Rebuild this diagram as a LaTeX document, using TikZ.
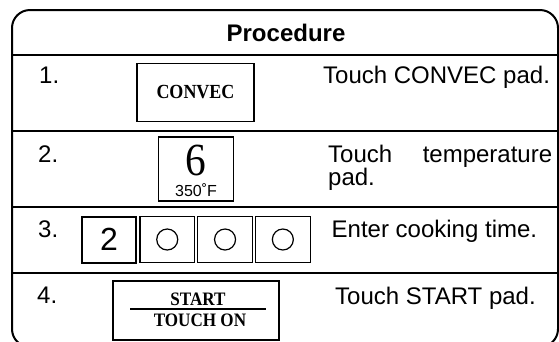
\documentclass[tikz,border=0pt]{standalone}
\usepackage{fontspec}
\setmainfont{Liberation Sans}
\newfontfamily\padfont[FakeStretch=0.9]{Liberation Serif}
\usetikzlibrary{positioning}

\tikzstyle{outer} = [draw, line width=2pt, rounded corners=18pt]
\tikzstyle{rowline} = [draw, line width=1.2pt]
\tikzstyle{pad} = [rectangle, draw, line width=1.1pt, inner sep=0pt, font=\padfont\bfseries\fontsize{20}{20}\selectfont]
\tikzstyle{digitkey} = [rectangle, draw, line width=1.1pt, minimum width=54.5pt, minimum height=46pt, inner sep=0pt, font=\fontsize{32}{32}\selectfont]
\tikzstyle{ring} = [circle, draw, line width=1.2pt, minimum size=21pt, inner sep=0pt]
\tikzstyle{textonly} = [anchor=base west, inner sep=0pt, font=\fontsize{24}{24}\selectfont]

\begin{document}
\begin{tikzpicture}[x=1pt, y=-1pt]

\useasboundingbox (0,0) rectangle (559,341);

% frame and rows =============================
\draw[outer] (12,10) rectangle (558,347);
\node[anchor=base, inner sep=0pt, font=\bfseries\fontsize{24}{24}\selectfont] (title) at (286,41) {Procedure};
\path[rowline] (12,55) -- (558,55);
\path[rowline] (12,131) -- (558,131);
\path[rowline] (12,207) -- (558,207);
\path[rowline] (12,273) -- (558,273);

% step 1
\node[textonly] (n1) at (39,83) {1.};
\node[pad, minimum width=117pt, minimum height=58pt] (convec) at (195.5,92.5) {CONVEC};
\node[textonly] (s1) at (323,83) {Touch CONVEC pad.};

% step 2
\node[textonly] (n2) at (38,162) {2.};
\node[pad, minimum width=75pt, minimum height=64pt] (temp) at (196,169) {};
\node[anchor=base, inner sep=0pt, font=\padfont\fontsize{46}{46}\selectfont] (six) at (196,175) {6};
\node[anchor=base, inner sep=0pt, font=\fontsize{16}{16}\selectfont] (deg) at (196,196) {350˚F};
\node[textonly] (s2) at (328,162) {\makebox[224pt][s]{Touch temperature}};
\node[textonly] (s2b) at (328,185) {pad.};

% step 3
\node[textonly] (n3) at (38,237) {3.};
\node[digitkey, line width=2pt] (t1) at (109,239.5) {2};
\node[digitkey, right=2.2pt of t1] (t2) {};
\node[digitkey, right=2.2pt of t2] (t3) {};
\node[digitkey, right=2.2pt of t3] (t4) {};
\node[ring] (o2) at (t2) {};
\node[ring] (o3) at (t3) {};
\node[ring] (o4) at (t4) {};
\node[textonly] (s3) at (331.5,237) {Enter cooking time.};

% step 4
\node[textonly] (n4) at (37,303) {4.};
\node[pad, minimum width=166pt, minimum height=59pt] (start) at (196,310.5) {};
\node[anchor=base, inner sep=0pt, font=\padfont\bfseries\fontsize{19}{19}\selectfont] (go) at (198,305) {START};
\node[anchor=base, inner sep=0pt, font=\padfont\bfseries\fontsize{19}{19}\selectfont] (touchon) at (200,326.5) {TOUCH ON};
\draw[line width=1.8pt] (130,308.7) -- (266,308.7);
\node[textonly] (s4) at (335,304) {Touch START pad.};

\end{tikzpicture}
\end{document}
